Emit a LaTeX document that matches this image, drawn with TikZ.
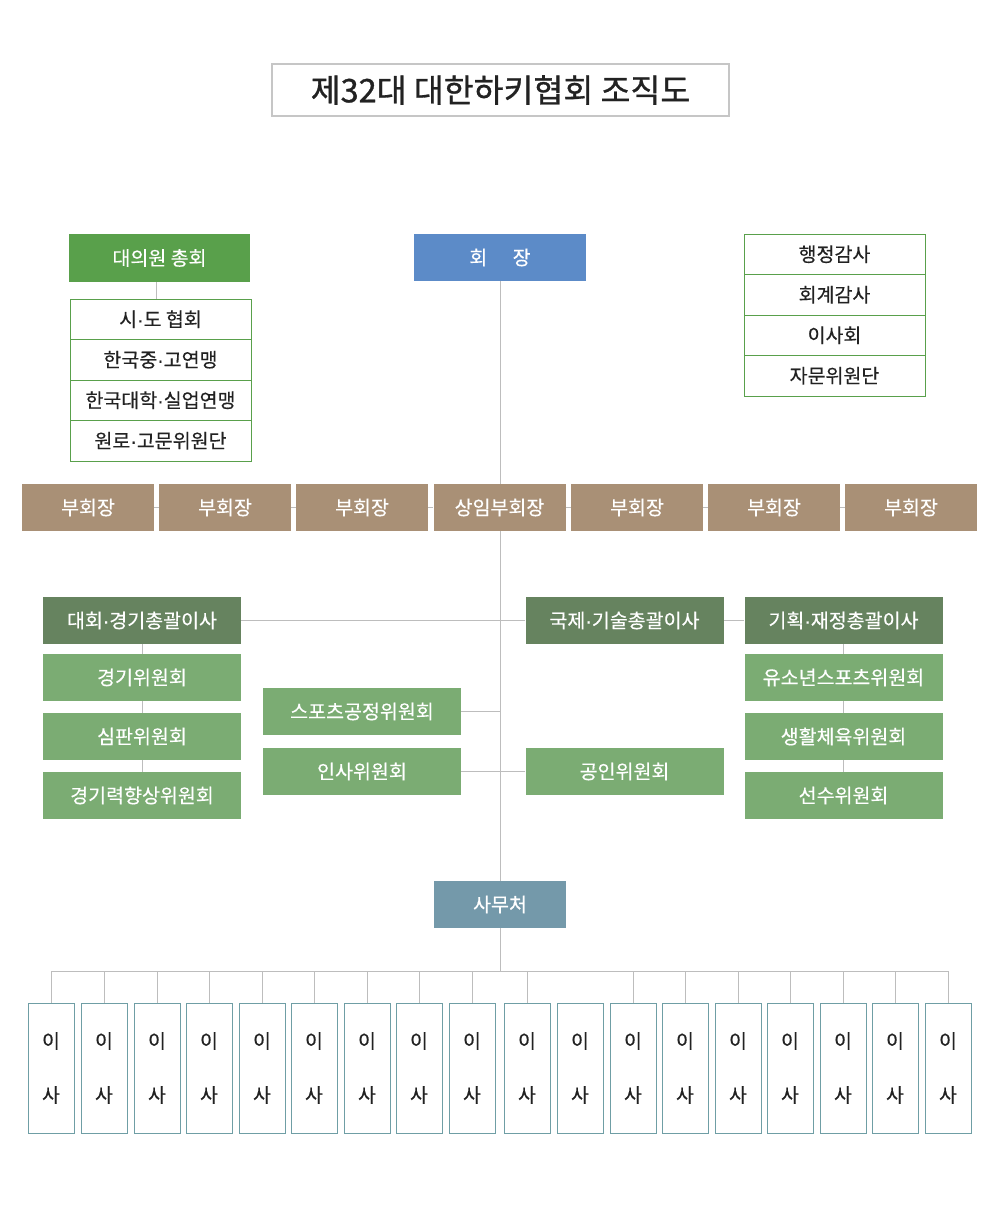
\documentclass[tikz,border=0pt]{standalone}
\usepackage{fontspec}
\setmainfont{Noto Sans CJK KR}[FakeBold=0.4]
\newfontfamily\titlefont{Noto Sans CJK KR}[FakeBold=0.9]
\newfontfamily\dotfont{Liberation Sans}[FakeBold=0.4]
\newcommand{\md}{{\dotfont ·}}
\usepackage{tikz}
\usetikzlibrary{backgrounds}

\definecolor{linegray}{HTML}{BDBDBD}
\definecolor{titlegray}{HTML}{C6C6C6}
\definecolor{chairblue}{HTML}{5C8BC8}
\definecolor{assemgreen}{HTML}{59A04B}
\definecolor{vicebrown}{HTML}{A99076}
\definecolor{headgreen}{HTML}{66835F}
\definecolor{compgreen}{HTML}{7BAC73}
\definecolor{officeblue}{HTML}{7499AA}
\definecolor{isateal}{HTML}{6F9EA5}
\definecolor{inkgray}{HTML}{222222}

\begin{document}
\begin{tikzpicture}[x=1pt,y=1pt,yscale=-1,xscale=1,
  link/.style={draw=linegray, line width=1pt},
  fillbox/.style={inner sep=0pt, text=white, font=\fontsize{19.5}{22}\selectfont, minimum height=47pt},
  chairbox/.style={fillbox, fill=chairblue, minimum width=172pt},
  assembox/.style={fillbox, fill=assemgreen, minimum width=181pt, minimum height=48pt},
  vicebox/.style={fillbox, fill=vicebrown, minimum width=132pt},
  headbox/.style={fillbox, fill=headgreen, minimum width=198pt},
  compbox/.style={fillbox, fill=compgreen, minimum width=198pt},
  officebox/.style={fillbox, fill=officeblue, minimum width=132pt},
  stackbox/.style={draw=assemgreen, line width=1pt, inner sep=0pt, text=inkgray, font=\fontsize{19.5}{22}\selectfont, minimum width=181pt, minimum height=40.5pt},
  isabox/.style={draw=isateal, line width=1pt, inner sep=0pt, text=inkgray, align=center, font=\fontsize{19.5}{54}\selectfont, minimum width=46pt, minimum height=130pt},
  titlebox/.style={draw=titlegray, line width=1.5pt, inner sep=0pt, text=inkgray, font=\titlefont\fontsize{32.5}{36}\selectfont, minimum width=457pt, minimum height=52pt}
]
\useasboundingbox (0,0) rectangle (1000,1218);

% title
\node[titlebox] (title) at (500.5,90) {제32대 대한하키협회 조직도};

% top
\node[chairbox] (chair) at (500,257.5) {회\hspace{1.3em}장};
\node[assembox] (gen) at (159.5,258) {대의원 총회};
\foreach \t [count=\n] in {시\md 도 협회, 한국중\md 고연맹, 한국대학\md 실업연맹, 원로\md 고문위원단}
  \node[stackbox] (m\n) at (160.5,278.75+40.5*\n) {\t};
\foreach \t [count=\n] in {행정감사, 회계감사, 이사회, 자문위원단}
  \node[stackbox] (a\n) at (834.5,213.75+40.5*\n) {\t};

% vice presidents
\node[vicebox] (v1) at (88,507.5) {부회장};
\node[vicebox] (v2) at (225,507.5) {부회장};
\node[vicebox] (v3) at (362,507.5) {부회장};
\node[vicebox] (v4) at (499.5,507.5) {상임부회장};
\node[vicebox] (v5) at (637,507.5) {부회장};
\node[vicebox] (v6) at (774,507.5) {부회장};
\node[vicebox] (v7) at (911,507.5) {부회장};

% directors and committees
\node[headbox] (d1) at (142,620.5) {대회\md 경기총괄이사};
\node[compbox] (d2) at (142,677.5) {경기위원회};
\node[compbox] (d3) at (142,736.5) {심판위원회};
\node[compbox] (d4) at (142,795.5) {경기력향상위원회};
\node[compbox] (s1) at (362,711.5) {스포츠공정위원회};
\node[compbox] (s2) at (362,771.5) {인사위원회};
\node[headbox] (t1) at (624.5,620.5) {국제\md 기술총괄이사};
\node[compbox] (t2) at (624.5,771.5) {공인위원회};
\node[headbox] (p1) at (843.5,620.5) {기획\md 재정총괄이사};
\node[compbox] (p2) at (843.5,677.5) {유소년스포츠위원회};
\node[compbox] (p3) at (843.5,736.5) {생활체육위원회};
\node[compbox] (p4) at (843.5,795.5) {선수위원회};

% office
\node[officebox] (office) at (500,904.5) {사무처};
\coordinate (bus) at (500,971);

% board members
\foreach \x [count=\n] in {51,104,157,209,262,314,367,419,472,527,580,633,685,738,790,843,895,948}
  \node[isabox] (i\n) at (\x,1068) {이\\사};

\begin{scope}[on background layer]
\draw[link] (chair.south) -- (office.north);
\draw[link] (office.south) -- (bus);
\draw[link] ([xshift=-3.5pt]gen.south) -- ([xshift=-3.5pt]gen.south |- m1.north);
\foreach \a/\b in {v1/v2,v2/v3,v3/v4,v4/v5,v5/v6,v6/v7}
  \draw[link] (\a.east) -- (\b.west);
\draw[link] (d1.east) -- (d1.east -| chair.south);
\draw[link] (s1.east) -- (s1.east -| chair.south);
\draw[link] (s2.east) -- (s2.east -| chair.south);
\draw[link] (t1.west) -- (t1.west -| chair.south);
\draw[link] (t2.west) -- (t2.west -| chair.south);
\draw[link] (t1.east) -- (p1.west);
\draw[link] (d1) -- (d2) (d2) -- (d3) (d3) -- (d4);
\draw[link] (p1) -- (p2) (p2) -- (p3) (p3) -- (p4);
\draw[link] (i1.north |- bus) -- (i18.north |- bus);
\foreach \n in {1,...,10,12,13,...,18}
  \draw[link] (i\n.north) -- (i\n.north |- bus);
\end{scope}

\end{tikzpicture}
\end{document}
